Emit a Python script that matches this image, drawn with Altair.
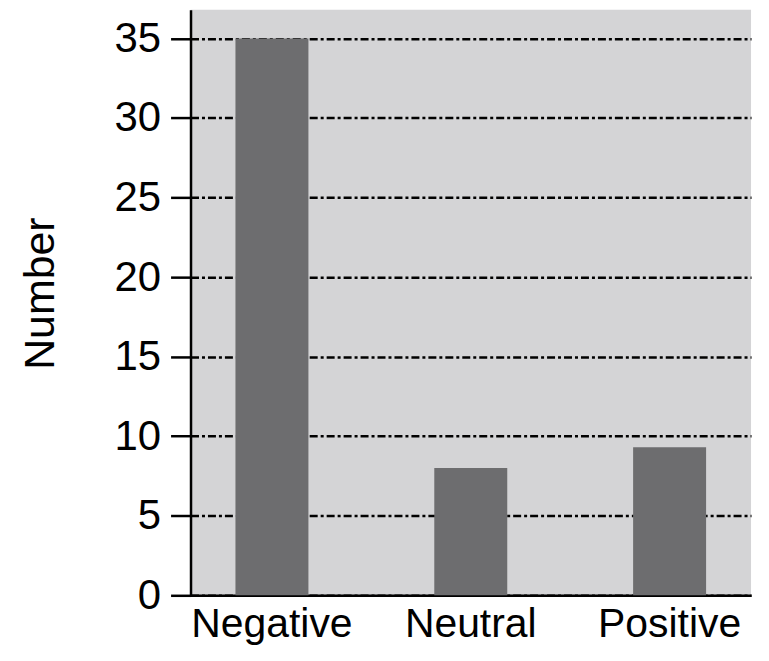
import altair as alt
import pandas as pd

categories = ["Negative", "Neutral", "Positive"]
values = [35, 8, 9.3]
y_ticks = [0, 5, 10, 15, 20, 25, 30, 35]

df = pd.DataFrame({"sentiment": categories, "count": values})

FONT = "Liberation Sans"

chart = alt.Chart(df).mark_bar(color="#6d6d6f").encode(
    x=alt.X("sentiment:N", sort=categories,
            scale=alt.Scale(paddingInner=0.633, paddingOuter=0.226),
            axis=alt.Axis(title=None, labelAngle=0, labelFontSize=41, labelFont=FONT,
                          labelColor="black", ticks=False, labelPadding=9, labelLimit=0,
                          domainColor="black", domainWidth=2.5)),
    y=alt.Y("count:Q", scale=alt.Scale(domain=[0, 36.8], nice=False),
            axis=alt.Axis(title="Number", values=y_ticks, titleFontSize=43, titleFont=FONT,
                          titleFontWeight="normal", titleColor="black", titlePadding=52,
                          titleY=284,
                          labelFontSize=42, labelFont=FONT, labelColor="black",
                          labelPadding=10, tickSize=20, tickColor="black", tickWidth=2.5,
                          domainColor="black", domainWidth=2.5,
                          grid=True, gridColor="black", gridWidth=2.5,
                          gridDash=[8, 3, 3, 3])),
).properties(
    width=562, height=587,
    autosize=alt.AutoSizeParams(type="none"),
    padding={"left": 183, "top": 1, "right": 10, "bottom": 60},
    background="white",
).configure_view(fill="#d4d4d6", stroke=None)

chart.save("out.html", embed_options={"renderer": "svg", "actions": False})
